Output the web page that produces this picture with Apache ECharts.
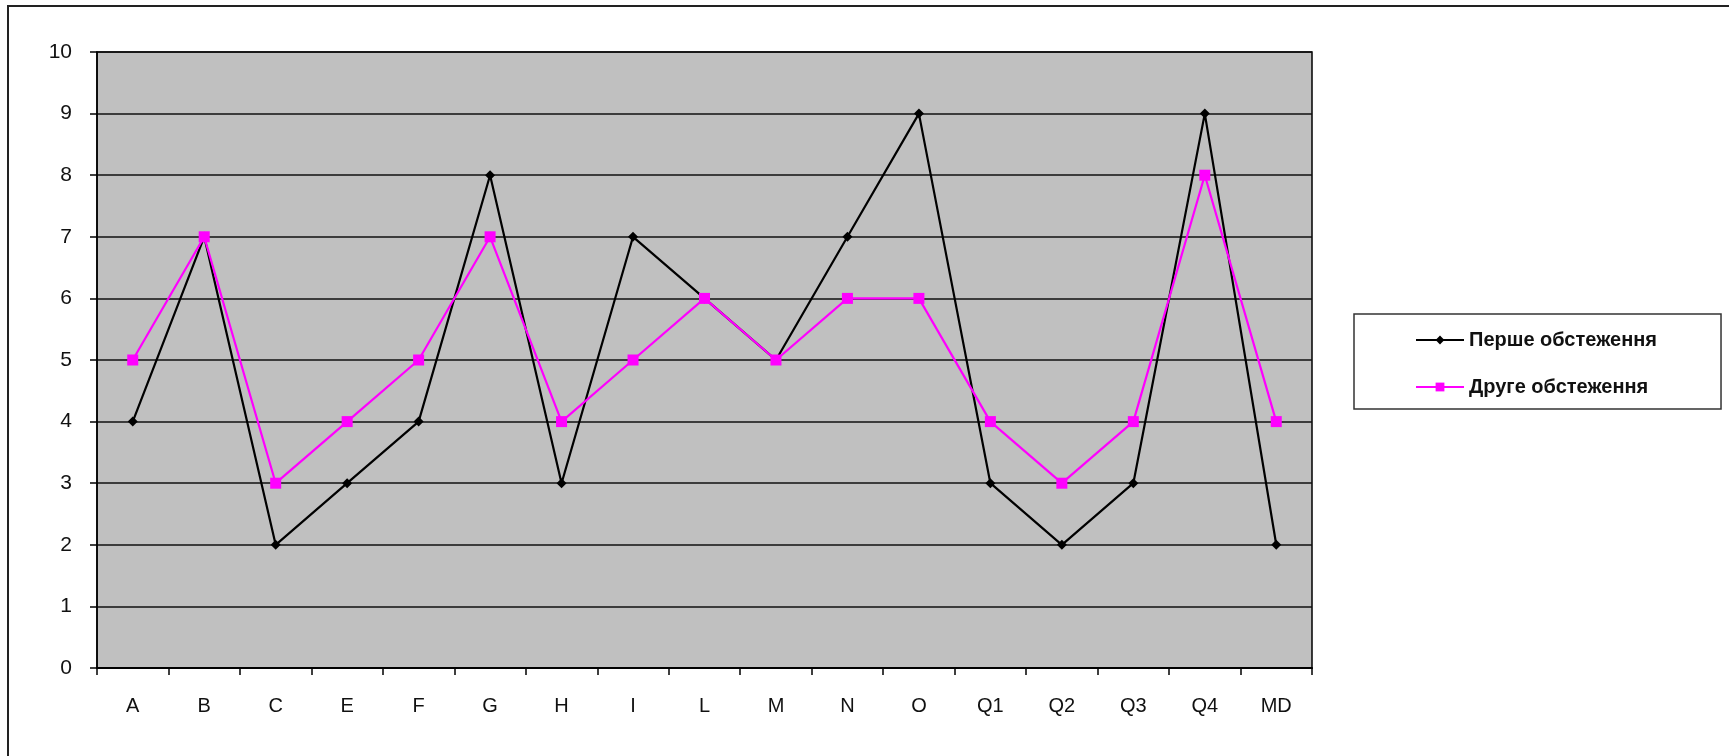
<!DOCTYPE html>
<html>
<head>
<meta charset="utf-8">
<script src="https://cdn.jsdelivr.net/npm/echarts@6/dist/echarts.min.js"></script>
<style>
  html, body { margin: 0; padding: 0; background: #ffffff; }
  #chart { width: 1729px; height: 756px; }
</style>
</head>
<body>
<div id="chart"></div>
<script>
// Factor categories
const categories = ['A', 'B', 'C', 'E', 'F', 'G', 'H', 'I', 'L', 'M', 'N', 'O', 'Q1', 'Q2', 'Q3', 'Q4', 'MD'];
// Scores of the first survey
const firstSurvey = [4, 7, 2, 3, 4, 8, 3, 7, 6, 5, 7, 9, 3, 2, 3, 9, 2];
// Scores of the second survey
const secondSurvey = [5, 7, 3, 4, 5, 7, 4, 5, 6, 5, 6, 6, 4, 3, 4, 8, 4];
const seriesNames = ['Перше обстеження', 'Друге обстеження'];

const chart = echarts.init(document.getElementById('chart'), null, { renderer: 'canvas' });

const font = '"Liberation Sans", Arial, sans-serif';

chart.setOption({
  backgroundColor: '#ffffff',
  animation: false,
  graphic: [{
    type: 'rect',
    shape: { x: 8, y: 6, width: 1740, height: 780 },
    style: { fill: 'none', stroke: '#222222', lineWidth: 2 },
    silent: true,
    z: -1
  }],
  grid: {
    left: 97, right: 417, top: 52, bottom: 88,
    show: true,
    backgroundColor: '#c0c0c0',
    borderColor: '#000000',
    borderWidth: 1.5
  },
  legend: {
    orient: 'vertical',
    left: 1354,
    top: 314,
    padding: [16, 64, 12, 61],
    itemGap: 27,
    itemWidth: 48,
    itemHeight: 11,
    borderColor: '#333333',
    borderWidth: 1.5,
    backgroundColor: '#ffffff',
    textStyle: { fontFamily: font, fontSize: 20, fontWeight: 'bold', color: '#111111' },
    data: seriesNames
  },
  xAxis: {
    type: 'category',
    data: categories,
    boundaryGap: true,
    axisLine: { show: true, lineStyle: { color: '#000000', width: 2 } },
    axisTick: { show: true, length: 7, lineStyle: { color: '#000000', width: 1.5 } },
    axisLabel: { fontFamily: font, fontSize: 20, color: '#111111', margin: 28 },
    splitLine: { show: false }
  },
  yAxis: {
    type: 'value',
    min: 0, max: 10, interval: 1,
    axisLine: { show: true, lineStyle: { color: '#000000', width: 1.5 } },
    axisTick: { show: true, length: 7, lineStyle: { color: '#000000', width: 1.5 } },
    axisLabel: { fontFamily: font, fontSize: 21, color: '#111111', margin: 25 },
    splitLine: { show: true, lineStyle: { color: '#111111', width: 1.5 } }
  },
  series: [
    {
      name: seriesNames[0],
      type: 'line',
      data: firstSurvey,
      symbol: 'diamond',
      symbolSize: 10,
      itemStyle: { color: '#000000' },
      lineStyle: { color: '#000000', width: 2.2 },
      z: 3
    },
    {
      name: seriesNames[1],
      type: 'line',
      data: secondSurvey,
      symbol: 'rect',
      symbolSize: 11,
      itemStyle: { color: '#ff00ff' },
      lineStyle: { color: '#ff00ff', width: 2.2 },
      z: 4
    }
  ]
});
</script>
</body>
</html>
